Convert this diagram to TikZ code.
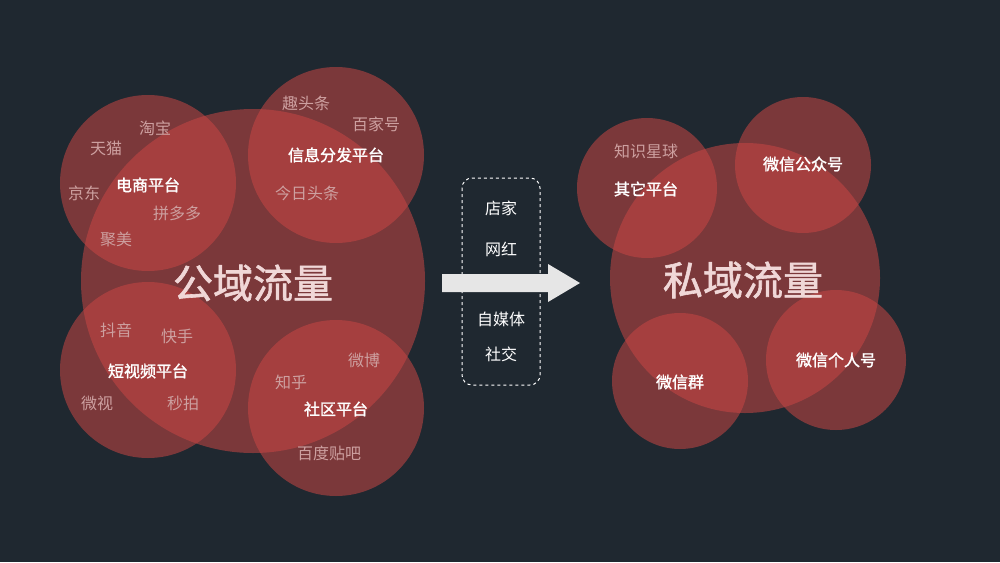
\documentclass[tikz,border=0pt]{standalone}
\usepackage{fontspec}
\newfontfamily\cjk{Noto Sans CJK SC}
\newfontfamily\cjkb[FakeBold=1.5]{Noto Sans CJK SC}
\definecolor{bg}{RGB}{31,40,48}
\definecolor{cred}{RGB}{200,70,68}
\definecolor{lblc}{RGB}{205,160,160}
\definecolor{bigc}{RGB}{240,215,215}
\definecolor{arr}{RGB}{230,230,230}
\begin{document}
\begin{tikzpicture}[x=1pt,y=-1pt,
  circ/.style={fill=cred,fill opacity=0.55},
  lbl/.style={text=lblc,font=\cjk\fontsize{16}{16}\selectfont},
  key/.style={text=white,font=\cjkb\fontsize{16}{16}\selectfont},
  big/.style={text=bigc,font=\cjkb\fontsize{40}{40}\selectfont},
  mid/.style={text=white,font=\cjk\fontsize{16}{16}\selectfont}]
\fill[bg] (0,0) rectangle (1000,562);
\useasboundingbox (0,0) rectangle (1000,562);
% left
\fill[circ] (253,281) circle (172);
\fill[circ] (148,183) circle (88);
\fill[circ] (336,155) circle (88);
\fill[circ] (148,370) circle (88);
\fill[circ] (336,408) circle (88);
\node[big] (pub) at (253,283) {公域流量};
\node[lbl] (a1) at (155,128) {淘宝};
\node[lbl] (a2) at (106,148) {天猫};
\node[key] (a3) at (148,185) {电商平台};
\node[lbl] (a4) at (84,193) {京东};
\node[lbl] (a5) at (177,213) {拼多多};
\node[lbl] (a6) at (116,239) {聚美};
\node[lbl] (b1) at (306,103) {趣头条};
\node[lbl] (b2) at (376,124) {百家号};
\node[key] (b3) at (336,155) {信息分发平台};
\node[lbl] (b4) at (307,193) {今日头条};
\node[lbl] (c1) at (116,330) {抖音};
\node[lbl] (c2) at (177,336) {快手};
\node[key] (c3) at (148,371) {短视频平台};
\node[lbl] (c4) at (97,403) {微视};
\node[lbl] (c5) at (183,403) {秒拍};
\node[lbl] (d1) at (364,360) {微博};
\node[lbl] (d2) at (291,382) {知乎};
\node[key] (d3) at (336,409) {社区平台};
\node[lbl] (d4) at (329,453) {百度贴吧};
% middle
\draw[white,dashed,rounded corners=10pt,line width=1pt] (462,178) rectangle (540,385);
\node[mid] (m1) at (501,208) {店家};
\node[mid] (m2) at (501,249) {网红};
\node[mid] (m3) at (501,319) {自媒体};
\node[mid] (m4) at (501,354) {社交};
\fill[arr] (442,274) -- (548,274) -- (548,264) -- (580,283) -- (548,302) -- (548,292) -- (442,292) -- cycle;
% right
\fill[circ] (745,278) circle (135);
\fill[circ] (647,188) circle (70);
\fill[circ] (803,165) circle (68);
\fill[circ] (680,381) circle (68);
\fill[circ] (836,360) circle (70);
\node[big] (pri) at (743,280) {私域流量};
\node[lbl] (r1) at (646,151) {知识星球};
\node[key] (r2) at (646,189) {其它平台};
\node[key] (r3) at (803,164) {微信公众号};
\node[key] (r4) at (680,382) {微信群};
\node[key] (r5) at (836,360) {微信个人号};
\end{tikzpicture}
\end{document}
